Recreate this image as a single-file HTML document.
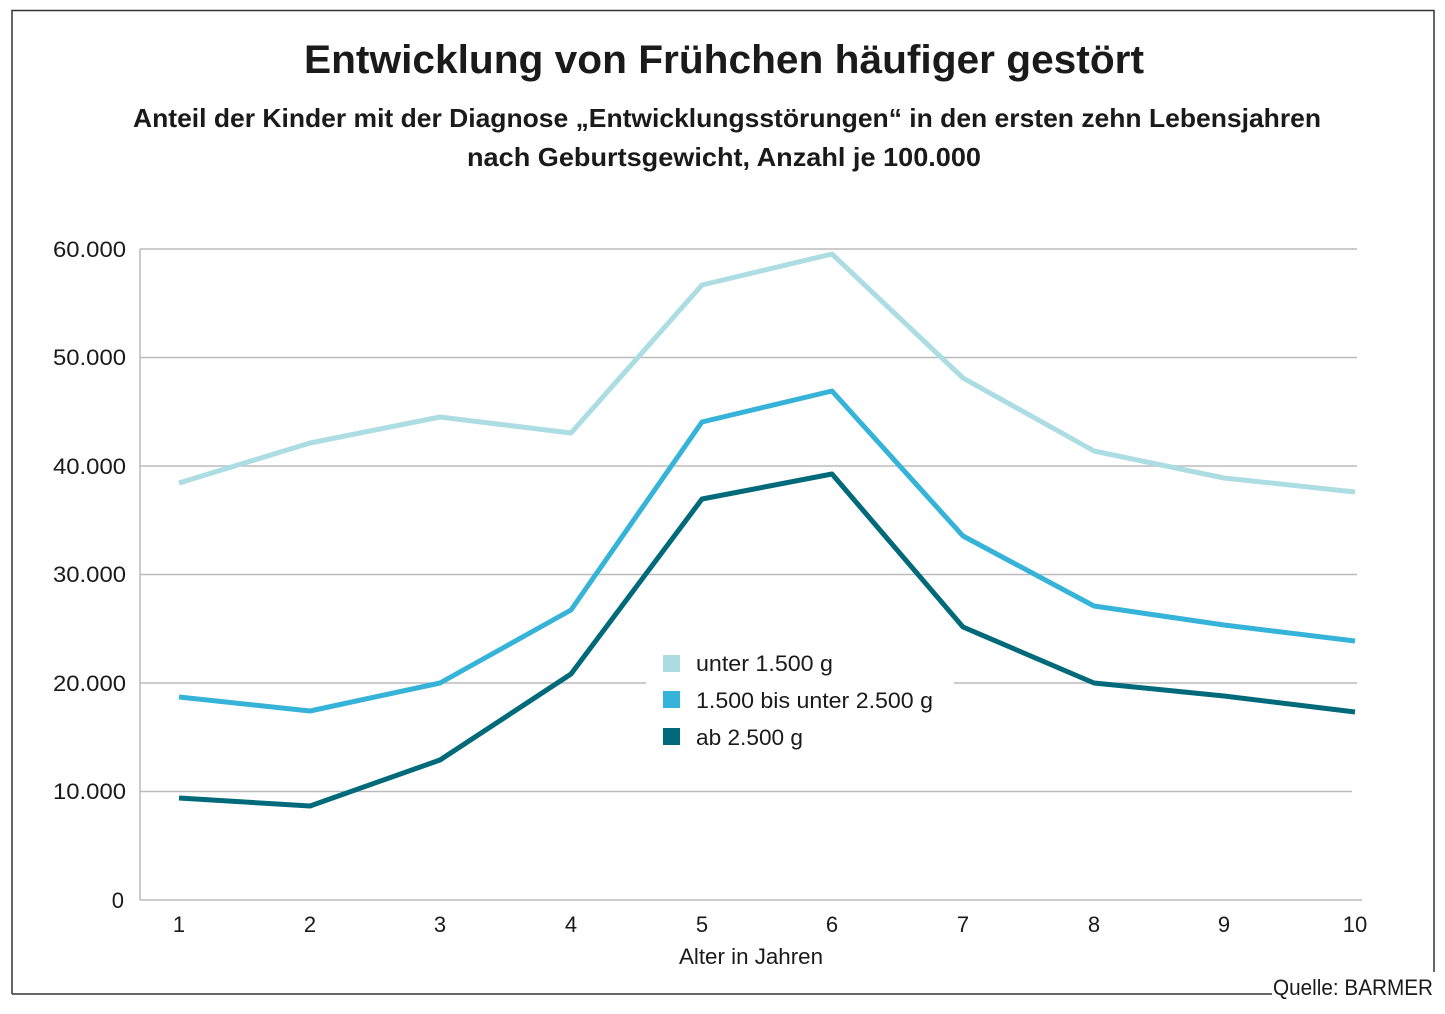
<!DOCTYPE html>
<html><head><meta charset="utf-8"><style>
body{margin:0;background:#fff;}
svg text{font-family:"Liberation Sans",sans-serif;fill:#1a1a1a;}
</style></head><body>
<svg width="1445" height="1009" viewBox="0 0 1445 1009">
<rect width="1445" height="1009" fill="#fff"/>
<path d="M12,994 V10.5 H1434 V972" fill="none" stroke="#333" stroke-width="1.5"/>
<line x1="12" y1="994" x2="1272" y2="994" stroke="#333" stroke-width="1.5"/>
<text x="724" y="73" text-anchor="middle" font-size="40" font-weight="bold" textLength="840" lengthAdjust="spacingAndGlyphs">Entwicklung von Frühchen häufiger gestört</text>
<text x="727" y="127" text-anchor="middle" font-size="26" font-weight="bold" textLength="1188" lengthAdjust="spacingAndGlyphs">Anteil der Kinder mit der Diagnose „Entwicklungsstörungen“ in den ersten zehn Lebensjahren</text>
<text x="724" y="166" text-anchor="middle" font-size="26" font-weight="bold" textLength="514" lengthAdjust="spacingAndGlyphs">nach Geburtsgewicht, Anzahl je 100.000</text>
<g stroke="#bbb" stroke-width="1.5">
<line x1="140" y1="249" x2="1357" y2="249"/>
<line x1="140" y1="357.5" x2="1357" y2="357.5"/>
<line x1="140" y1="466" x2="1357" y2="466"/>
<line x1="140" y1="574.5" x2="1357" y2="574.5"/>
<line x1="140" y1="683" x2="1357" y2="683"/>
<line x1="140" y1="791.5" x2="1352" y2="791.5"/>
<line x1="140" y1="900" x2="1362" y2="900"/>
<line x1="140" y1="249" x2="140" y2="900"/>
</g>
<g font-size="22" text-anchor="end">
<text x="126" y="257" textLength="73" lengthAdjust="spacingAndGlyphs">60.000</text><text x="126" y="365" textLength="73" lengthAdjust="spacingAndGlyphs">50.000</text><text x="126" y="474" textLength="73" lengthAdjust="spacingAndGlyphs">40.000</text>
<text x="126" y="582" textLength="73" lengthAdjust="spacingAndGlyphs">30.000</text><text x="126" y="691" textLength="73" lengthAdjust="spacingAndGlyphs">20.000</text><text x="126" y="799" textLength="73" lengthAdjust="spacingAndGlyphs">10.000</text><text x="124" y="908">0</text>
</g>
<g font-size="22" text-anchor="middle">
<text x="179" y="932">1</text><text x="310" y="932">2</text><text x="440" y="932">3</text><text x="571" y="932">4</text><text x="702" y="932">5</text>
<text x="832" y="932">6</text><text x="963" y="932">7</text><text x="1094" y="932">8</text><text x="1224" y="932">9</text><text x="1355" y="932">10</text>
<text x="751" y="964" textLength="144" lengthAdjust="spacingAndGlyphs">Alter in Jahren</text>
</g>
<text x="1433" y="995" font-size="22" text-anchor="end" textLength="160" lengthAdjust="spacingAndGlyphs">Quelle: BARMER</text>
<g fill="none" stroke-width="5" stroke-linejoin="round">
<polyline stroke="#abdde2" points="179,483 310,443 440,417 571,433 702,285 832,254 963,378 1094,451 1224,478 1355,492"/>
<polyline stroke="#35b3d8" points="179,697 310,711 440,683 571,610 702,422 832,391 963,536 1094,606 1224,625 1355,641"/>
<polyline stroke="#006a7a" points="179,798 310,806 440,760 571,674 702,499 832,474 963,627 1094,683 1224,696 1355,712"/>
</g>
<rect x="646" y="645" width="308" height="112" fill="#fff"/>
<rect x="663" y="655" width="17" height="17" fill="#abdde2"/>
<rect x="663" y="691" width="17" height="17" fill="#35b3d8"/>
<rect x="663" y="728" width="17" height="17" fill="#006a7a"/>
<g font-size="22">
<text x="696" y="671" textLength="137" lengthAdjust="spacingAndGlyphs">unter 1.500 g</text>
<text x="696" y="708" textLength="237" lengthAdjust="spacingAndGlyphs">1.500 bis unter 2.500 g</text>
<text x="696" y="745" textLength="107" lengthAdjust="spacingAndGlyphs">ab 2.500 g</text>
</g>
</svg>
</body></html>
